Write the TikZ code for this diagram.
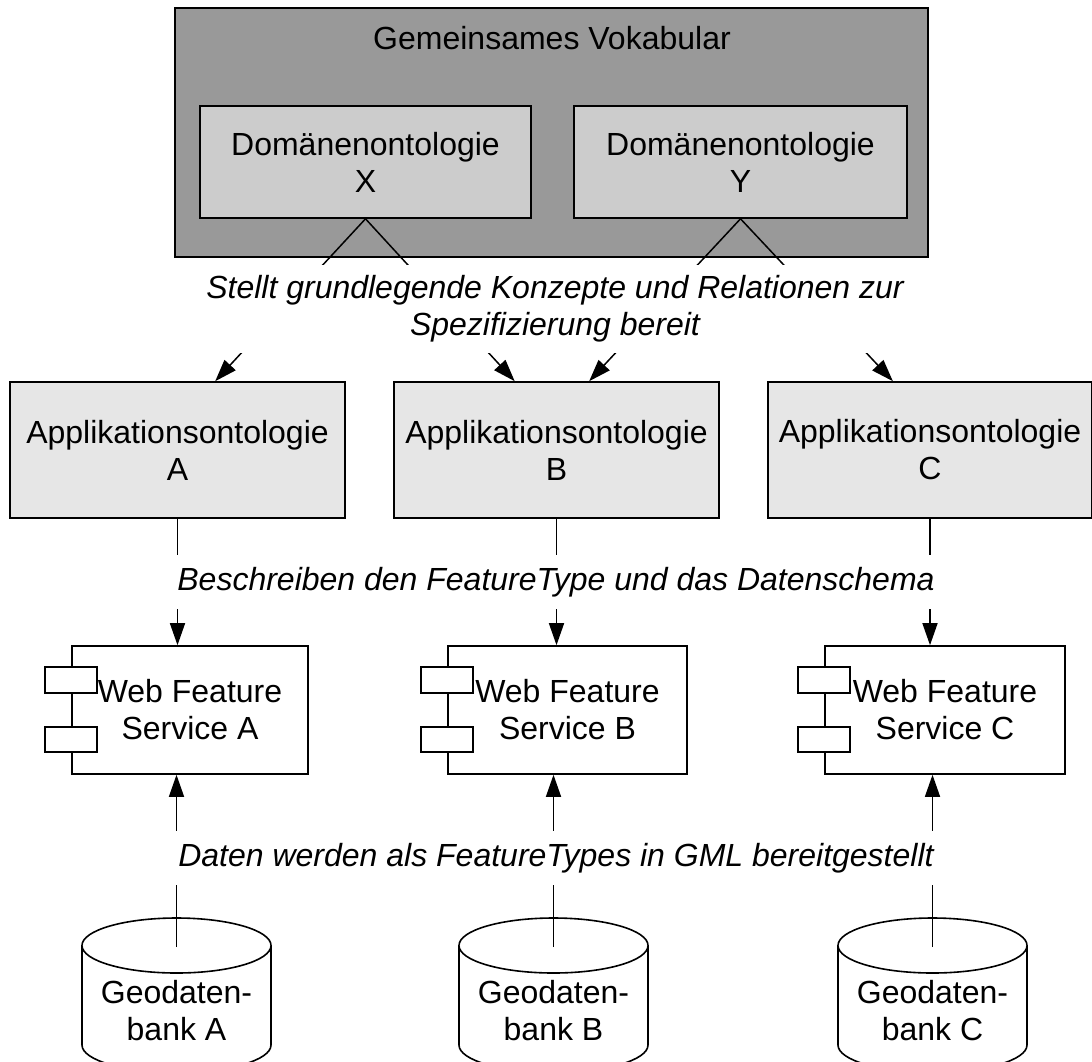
\documentclass[tikz,border=0pt]{standalone}
\usepackage{fontspec}
\setmainfont{Liberation Sans}
\usetikzlibrary{arrows.meta}
\usetikzlibrary{calc}

\definecolor{vocabgray}{HTML}{999999}
\definecolor{domaingray}{HTML}{CCCCCC}
\definecolor{appgray}{HTML}{E6E6E6}

\tikzset{
  ontobox/.style={draw, line width=0.8pt, align=center, inner sep=0pt},
  vocabbox/.style={ontobox, fill=vocabgray},
  domainbox/.style={ontobox, fill=domaingray, minimum height=56pt},
  appbox/.style={ontobox, fill=appgray, minimum height=68pt},
  wfsbox/.style={ontobox, fill=white, minimum height=64pt},
  wfstab/.style={draw, line width=0.8pt, fill=white},
  dbshape/.style={draw, line width=0.8pt, fill=white},
  relabel/.style={fill=white, font=\fontsize{16}{18.5}\selectfont\itshape, align=center, inner xsep=2pt, inner ysep=6pt},
  arr/.style={-{Triangle[length=11pt,width=7.5pt]}, line width=0.75pt},
}

% Geodatenbank als Zylinder: Name, x, Text
\newcommand{\geodb}[3]{%
  \draw[dbshape] (#2-94.5,945.5) -- (#2-94.5,1045)
    arc[start angle=180, end angle=0, x radius=94.5, y radius=27.5]
    -- (#2+94.5,945.5)
    arc[start angle=0, end angle=-180, x radius=94.5, y radius=27.5] -- cycle;
  \draw[dbshape] (#2-94.5,945.5) arc[start angle=180, end angle=0, x radius=94.5, y radius=27.5];
  \coordinate (#1top) at (#2,947);
  \node[align=center] (#1) at (#2,1011) {#3};
}

\begin{document}
\begin{tikzpicture}[x=0.5pt, y=-0.5pt, font=\fontsize{16}{18.5}\selectfont]
\useasboundingbox (0,0) rectangle (1092,1061);

% Gemeinsames Vokabular
\node[vocabbox, minimum width=376.5pt, minimum height=124.5pt] (vocab) at (551.5,132.5) {};
\node (vocabtitle) at (552,38) {Gemeinsames Vokabular};
\node[domainbox, minimum width=165.5pt] (domX) at (365.5,162) {Domänenontologie\\X};
\node[domainbox, minimum width=166.5pt] (domY) at (740.5,162) {Domänenontologie\\Y};

% Applikationsontologien
\node[appbox, minimum width=167.5pt] (appA) at (177.5,450) {Applikationsontologie\\A};
\node[appbox, minimum width=162.5pt] (appB) at (556.5,450) {Applikationsontologie\\B};
\node[appbox, minimum width=162pt] (appC) at (930,450) {Applikationsontologie\\C};

% Web Feature Services
\node[wfsbox, minimum width=118pt] (wfsA) at (190,710) {Web Feature\\Service A};
\node[wfsbox, minimum width=119.5pt] (wfsB) at (567.5,710) {Web Feature\\Service B};
\node[wfsbox, minimum width=120pt] (wfsC) at (945,710) {Web Feature\\Service C};
\foreach \w in {wfsA,wfsB,wfsC}{
  \draw[wfstab] ($(\w.north west)+(-26,22)$) rectangle +(52,26);
  \draw[wfstab] ($(\w.north west)+(-26,82)$) rectangle +(52,25);
}

% Geodatenbanken
\geodb{dbA}{176.5}{Geodaten-\\bank A}
\geodb{dbB}{553.5}{Geodaten-\\bank B}
\geodb{dbC}{932.5}{Geodaten-\\bank C}

% Verbindungen
\path[arr]
(domX.south) edge ($(appA.north west)!0.612!(appA.north east)$)
             edge ($(appB.north west)!0.372!(appB.north east)$)
(domY.south) edge ($(appB.north west)!0.6!(appB.north east)$)
             edge ($(appC.north west)!0.386!(appC.north east)$);
\path[arr]
(appA.south) edge (appA.south |- wfsA.north)
(appB.south) edge (appB.south |- wfsB.north)
(appC.south) edge (appC.south |- wfsC.north);
\path[arr]
(dbAtop) edge (dbAtop |- wfsA.south)
(dbBtop) edge (dbBtop |- wfsB.south)
(dbCtop) edge (dbCtop |- wfsC.south);

% Beschriftungen
\node[relabel, inner ysep=5.5pt] (rel1) at (555,309) {Stellt grundlegende Konzepte und Relationen zur\\Spezifizierung bereit};
\node[relabel] (rel2) at (556,582) {Beschreiben den FeatureType und das Datenschema};
\node[relabel] (rel3) at (556,858) {Daten werden als FeatureTypes in GML bereitgestellt};
\end{tikzpicture}
\end{document}
